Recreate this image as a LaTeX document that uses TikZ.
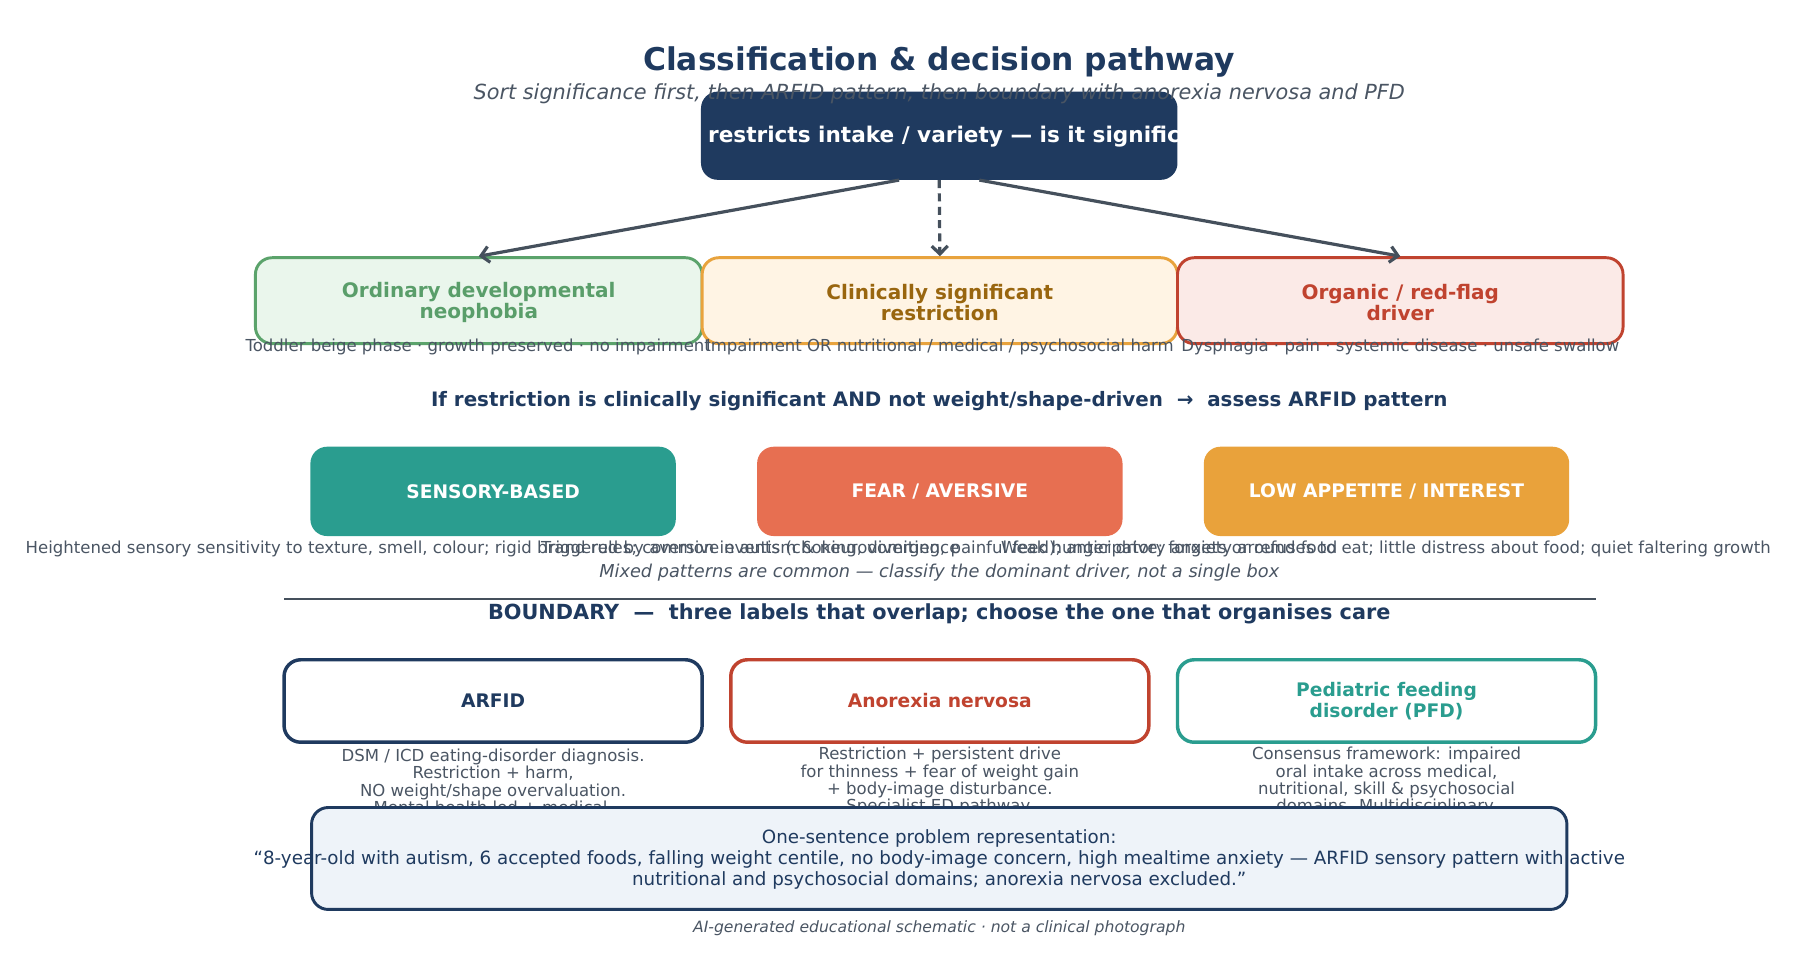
\documentclass[tikz,border=0pt]{standalone}
\usepackage{fontspec}
\setmainfont{DejaVu Sans}
\usetikzlibrary{arrows.meta,calc}
\def\pxu{0.859pt}
\definecolor{navy}{HTML}{1F3A5F}
\definecolor{capgray}{HTML}{4A5563}
\definecolor{arrowgray}{HTML}{45505C}
\definecolor{grnB}{HTML}{5BA36B}
\definecolor{grnF}{HTML}{EAF6EC}
\definecolor{grnT}{HTML}{5A9E6A}
\definecolor{orgB}{HTML}{E8A33D}
\definecolor{orgF}{HTML}{FFF4E4}
\definecolor{orgT}{HTML}{99660F}
\definecolor{redB}{HTML}{C0432F}
\definecolor{redF}{HTML}{FBEAE7}
\definecolor{tealC}{HTML}{2A9D8F}
\definecolor{coralC}{HTML}{E76F51}
\definecolor{amberC}{HTML}{E9A23B}
\definecolor{boxF}{HTML}{EEF3F9}
\tikzset{
 rbox/.style={rounded corners=12.5pt, inner sep=0pt, align=center},
 catbox/.style={rbox, draw, line width=2.2pt, minimum height=75*\pxu, font=\fontsize{15}{16}\selectfont\bfseries},
 patbox/.style={rbox, fill=#1, minimum width=319*\pxu, minimum height=78*\pxu, text=white, font=\fontsize{14}{15}\selectfont\bfseries},
 bndbox/.style={rbox, draw=#1, text=#1, fill=white, line width=2.6pt, minimum width=365*\pxu, minimum height=72*\pxu, font=\fontsize{14}{16}\selectfont\bfseries},
 captext/.style={inner sep=0pt, text=capgray, font=\fontsize{12.4}{13.1}\selectfont, align=center},
 arrline/.style={draw=arrowgray, line width=2.4pt, -{Straight Barb[length=6pt,width=12pt]}},
 headtext/.style={inner sep=0pt, text=navy, font=\fontsize{14.9}{17}\selectfont\bfseries},
}
\begin{document}
\begin{tikzpicture}[x=0.859pt,y=-0.859pt]
\useasboundingbox (0,0) rectangle (1568,846);

% title
\node[inner sep=0pt, text=navy, font=\fontsize{23.5}{27}\selectfont\bfseries] (title) at (820,54.5) {Classification \& decision pathway};

% top box
\node[rbox, fill=navy, minimum width=416*\pxu, minimum height=77*\pxu] (top) at (820,118.5) {};
\begin{scope}
\clip[rounded corners=12.5pt] (top.south west) rectangle (top.north east);
\node[anchor=west, inner sep=0pt, text=white, font=\fontsize{16.2}{18}\selectfont\bfseries] (toptext) at (618,119.5) {restricts intake / variety — is it signific};
\end{scope}
\node[inner sep=0pt, text=capgray, font=\fontsize{15.6}{18}\selectfont\itshape] (subtitle) at (820,81.5) {Sort significance first, then ARFID pattern, then boundary with anorexia nervosa and PFD};

% row 2
\node[catbox, draw=grnB, fill=grnF, text=grnT, minimum width=390*\pxu] (ord) at (418,262.5) {};
\node[catbox, draw=orgB, fill=orgF, text=orgT, minimum width=415*\pxu] (clin) at (820.5,262.5) {};
\node[catbox, draw=redB, fill=redF, text=redB, minimum width=389*\pxu] (orgn) at (1222.5,262.5) {};
\node[align=center, inner sep=0pt, text=grnT, font=\fontsize{15}{16}\selectfont\bfseries] (ordtext) at ($(ord.center)+(0,1.5)$) {Ordinary developmental\\neophobia};
\node[align=center, inner sep=0pt, text=orgT, font=\fontsize{15}{16}\selectfont\bfseries] (clintext) at ($(clin.center)+(0,1.5)$) {Clinically significant\\restriction};
\node[align=center, inner sep=0pt, text=redB, font=\fontsize{15}{16}\selectfont\bfseries] (orgntext) at ($(orgn.center)+(0,1.5)$) {Organic / red-flag\\driver};

\draw[arrline] ($(top.south)+(-35,0)$) -- (ord.north);
\draw[arrline, dash pattern=on 6pt off 4pt] (top.south) -- (clin.north);
\draw[arrline] ($(top.south)+(35,0)$) -- (orgn.north);

\node[captext] (ordcap) at (417.5,303) {Toddler beige phase · growth preserved · no impairment};
\node[captext] (clincap) at (820.5,303) {Impairment OR nutritional / medical / psychosocial harm};
\node[captext] (orgcap) at (1222.5,303) {Dysphagia · pain · systemic disease · unsafe swallow};

\node[headtext] (ifline) at (820,350) {If restriction is clinically significant AND not weight/shape-driven~~→~~assess ARFID pattern};

% row 3
\node[patbox=tealC] (sens) at (430.5,429) {SENSORY-BASED};
\node[patbox=coralC] (fear) at (820.5,429) {FEAR / AVERSIVE};
\node[patbox=amberC] (low) at (1210.5,429) {LOW APPETITE / INTEREST};

\node[captext] (senscap) at (430,479) {Heightened sensory sensitivity to texture, smell, colour; rigid brand rules; common in autism \& neurodivergence};
\node[captext] (fearcap) at (820,479) {Triggered by aversive events (choking, vomiting, painful feed); anticipatory anxiety around food};
\node[captext] (lowcap) at (1210,479) {Weak hunger drive; forgets or refuses to eat; little distress about food; quiet faltering growth};

\node[inner sep=0pt, text=capgray, font=\fontsize{13.3}{15}\selectfont\itshape] (mixed) at (820,500) {Mixed patterns are common — classify the dominant driver, not a single box};

\coordinate (ruleL) at (248,523);
\coordinate (ruleR) at (1393,523);
\draw[arrowgray, line width=1.6pt] (ruleL) -- (ruleR);

\node[inner sep=0pt, text=navy, font=\fontsize{15.6}{18}\selectfont\bfseries] (bnd) at (820,535.5) {BOUNDARY~~—~~three labels that overlap; choose the one that organises care};

% row 4
\node[bndbox=navy] (arfid) at (430.5,612) {ARFID};
\node[bndbox=redB] (an) at (820.5,612) {Anorexia nervosa};
\node[bndbox=tealC] (pfd) at (1210.5,612) {Pediatric feeding\\disorder (PFD)};

\node[captext] (arfidcap) at (430.5,682) {DSM / ICD eating-disorder diagnosis.\\Restriction + harm,\\NO weight/shape overvaluation.\\Mental health led + medical.};
\node[captext] (ancap) at (820.5,682) {Restriction + persistent drive\\for thinness + fear of weight gain\\+ body-image disturbance.\\Specialist ED pathway.};
\node[captext] (pfdcap) at (1210.5,682) {Consensus framework: impaired\\oral intake across medical,\\nutritional, skill \& psychosocial\\domains. Multidisciplinary.};

% bottom box
\node[rbox, draw=navy, fill=boxF, line width=2.2pt, minimum width=1096*\pxu, minimum height=89*\pxu] (sum) at (820,749.5) {};
\node[inner sep=0pt, align=center, text=navy, font=\fontsize{13.7}{15.9}\selectfont] (sumtext) at (820,750.5) {One-sentence problem representation:\\“8-year-old with autism, 6 accepted foods, falling weight centile, no body-image concern, high mealtime anxiety — ARFID sensory pattern with active\\nutritional and psychosocial domains; anorexia nervosa excluded.”};

\node[inner sep=0pt, text=capgray, font=\fontsize{11.7}{13}\selectfont\itshape] (foot) at (820,810.5) {AI-generated educational schematic · not a clinical photograph};
\end{tikzpicture}
\end{document}
